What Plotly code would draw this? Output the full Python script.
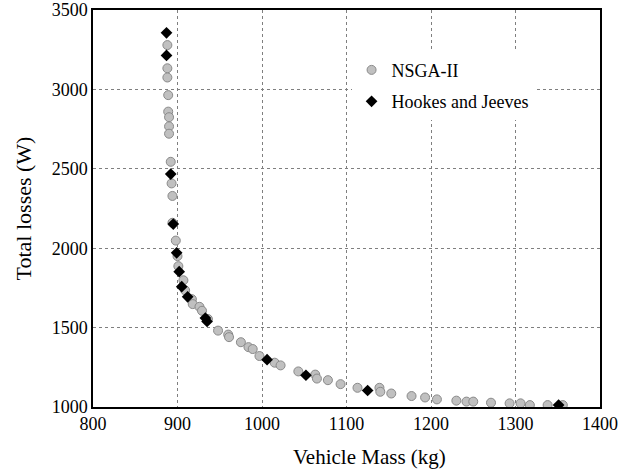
import plotly.graph_objects as go

# NSGA-II Pareto front (vehicle mass kg, total losses W)
nsga_mass = [888, 888, 888, 889, 889, 890, 890, 890, 892, 893, 894, 894, 898,
             900, 901, 907, 909, 917, 918, 926, 929, 936, 948, 960, 961, 975,
             984, 989, 997, 1015, 1022, 1043, 1063, 1065, 1078, 1093, 1113,
             1139, 1140, 1153, 1177, 1193, 1207, 1230, 1242, 1250, 1271, 1293,
             1306, 1317, 1338, 1356]
nsga_loss = [3279, 3133, 3075, 2964, 2860, 2825, 2767, 2721, 2544, 2408, 2329,
             2160, 2048, 1950, 1887, 1798, 1735, 1679, 1648, 1631, 1606, 1554,
             1481, 1456, 1440, 1408, 1377, 1365, 1321, 1279, 1262, 1224, 1204,
             1179, 1169, 1144, 1121, 1121, 1096, 1085, 1069, 1060, 1048, 1040,
             1034, 1034, 1027, 1023, 1023, 1012, 1012, 1012]

# Hooke and Jeeves results
hj_mass = [887, 887, 892, 895, 899, 902, 905, 912, 933, 935, 1006, 1052, 1125, 1351]
hj_loss = [3356, 3214, 2467, 2152, 1971, 1852, 1758, 1694, 1560, 1539, 1298, 1200, 1104, 1012]

x_ticks = [800, 900, 1000, 1100, 1200, 1300, 1400]
y_ticks = [1000, 1500, 2000, 2500, 3000, 3500]

FONT = "Liberation Serif"

fig = go.Figure()
fig.add_trace(go.Scatter(
    x=nsga_mass, y=nsga_loss, mode="markers", name="NSGA-II",
    marker=dict(symbol="circle", size=9, color="#c0c0c0",
                line=dict(color="#8a8a8a", width=1)),
    legendgroup="a",
))
fig.add_trace(go.Scatter(
    x=hj_mass, y=hj_loss, mode="markers", name="Hookes and Jeeves",
    marker=dict(symbol="diamond", size=9, color="black",
                line=dict(color="black", width=0)),
    legendgroup="b",
))

axis_common = dict(
    showline=True, linecolor="black", linewidth=1.5, mirror=True,
    showgrid=True, gridcolor="#7f7f7f", gridwidth=1, griddash="dot",
    zeroline=False, ticks="", ticklabeloverflow="allow", automargin=False,
    tickfont=dict(family=FONT, size=18, color="black"),
)

fig.update_xaxes(range=[800, 1400], tickvals=x_ticks, **axis_common)
fig.update_yaxes(range=[1000, 3500], tickvals=y_ticks,
                 title=dict(text="Total losses (W)",
                            font=dict(family=FONT, size=22, color="black"),
                            standoff=14),
                 **axis_common)

# x-axis title (placed slightly right of centre, as in the original)
fig.add_annotation(text="Vehicle Mass (kg)", xref="paper", yref="paper",
                   x=0.546, y=-0.125, xanchor="center", yanchor="middle",
                   showarrow=False,
                   font=dict(family=FONT, size=21, color="black"))

fig.update_layout(
    width=623, height=470,
    margin=dict(l=93, r=23, t=10, b=63),
    paper_bgcolor="white", plot_bgcolor="white",
    showlegend=True,
    legend=dict(x=0.51, y=0.895, xanchor="left", yanchor="top",
                bgcolor="white", borderwidth=0,
                font=dict(family=FONT, size=18, color="black"),
                itemsizing="trace", tracegroupgap=5,
                traceorder="grouped"),
    font=dict(family=FONT, color="black"),
)

fig.write_html("out.html", config={"displayModeBar": False},
               post_script="document.body.style.margin='0px';")
